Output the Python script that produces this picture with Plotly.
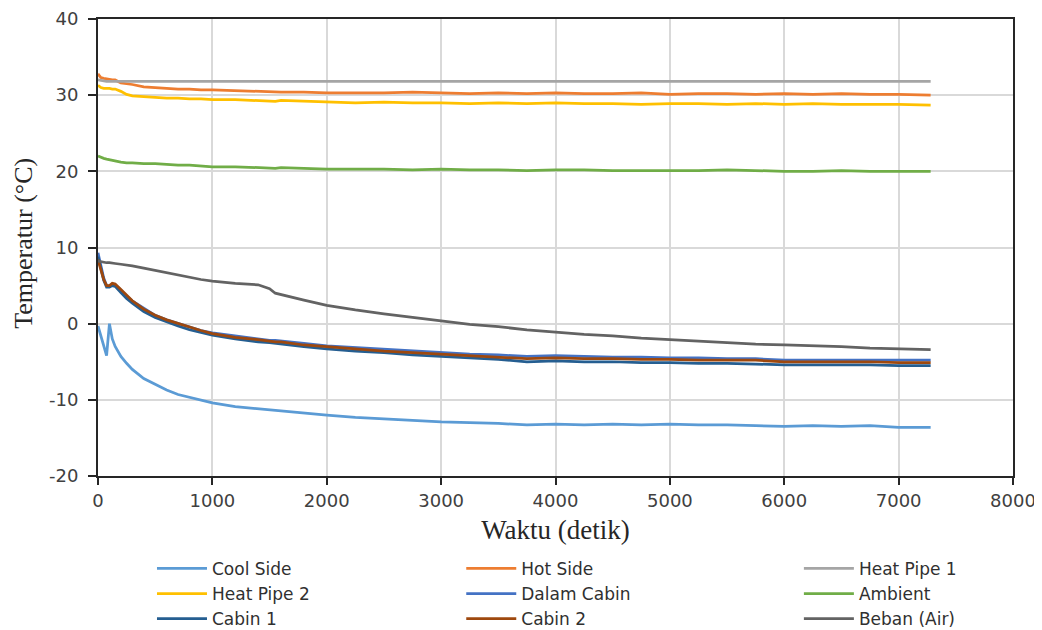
import plotly.graph_objects as go

t = [0, 25, 50, 75, 100, 125, 150, 200, 250, 300, 400, 500, 600, 700, 800, 900, 1000,
     1200, 1400, 1500, 1550, 1600, 1800, 2000, 2250, 2500, 2750, 3000, 3250, 3500, 3750,
     4000, 4250, 4500, 4750, 5000, 5250, 5500, 5750, 6000, 6250, 6500, 6750, 7000, 7280]

cool_side = [-0.3, -1.6, -2.6, -4.2, 0.0, -2.0, -3.0, -4.3, -5.2, -6.0, -7.2, -8.0, -8.7, -9.3,
             -9.7, -10.1, -10.4, -10.9, -11.2, -11.3, -11.4, -11.5, -11.8, -12.0, -12.3, -12.5,
             -12.7, -12.9, -13.0, -13.1, -13.3, -13.2, -13.3, -13.2, -13.3, -13.2, -13.3, -13.3,
             -13.4, -13.5, -13.4, -13.5, -13.4, -13.6, -13.6]
hot_side = [32.8, 32.3, 32.2, 32.1, 32.1, 32.0, 32.0, 31.6, 31.5, 31.4, 31.1, 31.0, 30.9, 30.8,
            30.8, 30.7, 30.7, 30.6, 30.5, 30.5, 30.5, 30.4, 30.4, 30.3, 30.3, 30.3, 30.4, 30.3,
            30.2, 30.3, 30.2, 30.3, 30.2, 30.2, 30.3, 30.1, 30.2, 30.2, 30.1, 30.2, 30.1, 30.2,
            30.1, 30.1, 30.0]
heat_pipe_1 = [32.0, 31.9, 31.9, 31.8, 31.8, 31.8, 31.8, 31.8, 31.8, 31.8, 31.8, 31.8, 31.8, 31.8,
               31.8, 31.8, 31.8, 31.8, 31.8, 31.8, 31.8, 31.8, 31.8, 31.8, 31.8, 31.8, 31.8, 31.8,
               31.8, 31.8, 31.8, 31.8, 31.8, 31.8, 31.8, 31.8, 31.8, 31.8, 31.8, 31.8, 31.8, 31.8,
               31.8, 31.8, 31.8]
heat_pipe_2 = [31.3, 31.0, 30.9, 30.9, 30.9, 30.8, 30.8, 30.5, 30.1, 29.9, 29.8, 29.7, 29.6, 29.6,
               29.5, 29.5, 29.4, 29.4, 29.3, 29.3, 29.2, 29.3, 29.2, 29.1, 29.0, 29.1, 29.0, 29.0,
               28.9, 29.0, 28.9, 29.0, 28.9, 28.9, 28.8, 28.9, 28.9, 28.8, 28.9, 28.8, 28.9, 28.8,
               28.8, 28.8, 28.7]
dalam_cabin = [9.3, 7.5, 6.0, 5.0, 4.9, 5.2, 5.1, 4.4, 3.6, 3.0, 2.0, 1.1, 0.5, 0.0, -0.5, -0.9,
               -1.2, -1.6, -2.0, -2.2, -2.2, -2.3, -2.6, -2.9, -3.1, -3.4, -3.6, -3.8, -4.0, -4.1,
               -4.3, -4.2, -4.3, -4.4, -4.4, -4.5, -4.5, -4.6, -4.6, -4.8, -4.8, -4.8, -4.8, -4.8,
               -4.8]
ambient = [22.0, 21.8, 21.7, 21.6, 21.5, 21.4, 21.4, 21.2, 21.1, 21.1, 21.0, 21.0, 20.9, 20.8,
           20.8, 20.7, 20.6, 20.6, 20.5, 20.5, 20.4, 20.5, 20.4, 20.3, 20.3, 20.3, 20.2, 20.3,
           20.2, 20.2, 20.1, 20.2, 20.2, 20.1, 20.1, 20.1, 20.1, 20.2, 20.1, 20.0, 20.0, 20.1,
           20.0, 20.0, 20.0]
cabin_1 = [8.8, 7.2, 5.7, 4.8, 4.8, 5.0, 4.9, 4.1, 3.3, 2.7, 1.6, 0.8, 0.2, -0.3, -0.8, -1.2,
           -1.5, -2.0, -2.4, -2.5, -2.6, -2.7, -3.0, -3.3, -3.6, -3.8, -4.1, -4.3, -4.5, -4.7,
           -5.0, -4.9, -5.0, -5.0, -5.1, -5.1, -5.2, -5.2, -5.3, -5.4, -5.4, -5.4, -5.4, -5.5,
           -5.5]
cabin_2 = [8.4, 7.0, 5.8, 5.0, 5.0, 5.3, 5.2, 4.5, 3.7, 3.0, 1.9, 1.1, 0.5, 0.0, -0.5, -0.9,
           -1.3, -1.8, -2.1, -2.3, -2.4, -2.4, -2.8, -3.0, -3.3, -3.6, -3.8, -4.0, -4.2, -4.4,
           -4.6, -4.5, -4.6, -4.6, -4.7, -4.7, -4.8, -4.8, -4.8, -5.0, -5.0, -5.0, -5.0, -5.1,
           -5.1]
beban_air = [8.2, 8.1, 8.1, 8.0, 8.0, 7.9, 7.9, 7.8, 7.7, 7.6, 7.3, 7.0, 6.7, 6.4, 6.1, 5.8,
             5.6, 5.3, 5.1, 4.6, 4.0, 3.8, 3.1, 2.4, 1.8, 1.3, 0.8, 0.3, -0.1, -0.4, -0.8, -1.1,
             -1.4, -1.6, -1.9, -2.1, -2.3, -2.5, -2.7, -2.8, -2.9, -3.0, -3.2, -3.3, -3.4]

y_ticks = [-20, -10, 0, 10, 20, 30, 40]
y_tick_labels = ["-20", "-10", "0", "10", "20", "30", "40"]
x_ticks = [0, 1000, 2000, 3000, 4000, 5000, 6000, 7000, 8000]
x_tick_labels = ["0", "1000", "2000", "3000", "4000", "5000", "6000", "7000", "8000"]

# (name, values, colour, legend column)
series = [
    ("Cool Side", cool_side, "#5B9BD5", "legend"),
    ("Hot Side", hot_side, "#ED7D31", "legend2"),
    ("Heat Pipe 1", heat_pipe_1, "#A5A5A5", "legend3"),
    ("Heat Pipe 2", heat_pipe_2, "#FFC000", "legend"),
    ("Dalam Cabin", dalam_cabin, "#4472C4", "legend2"),
    ("Ambient", ambient, "#70AD47", "legend3"),
    ("Cabin 1", cabin_1, "#255E91", "legend"),
    ("Cabin 2", cabin_2, "#9E480E", "legend2"),
    ("Beban (Air)", beban_air, "#636363", "legend3"),
]

fig = go.Figure()
for name, vals, col, lg in series:
    fig.add_trace(go.Scatter(x=t, y=vals, mode="lines", name=name, legend=lg,
                             line=dict(color=col, width=2.75)))

tick_font = dict(family="DejaVu Sans", size=18, color="#404040")
leg_common = dict(orientation="v", xanchor="left", y=-0.164, yanchor="top",
                  itemwidth=50, tracegroupgap=0, bgcolor="rgba(0,0,0,0)",
                  font=dict(family="DejaVu Sans", size=17, color="#303030"))
fig.update_layout(
    width=1034, height=622,
    margin=dict(l=90, r=29, t=11, b=154, autoexpand=False),
    paper_bgcolor="white", plot_bgcolor="white",
    showlegend=True,
    legend=dict(x=0.059, **leg_common),
    legend2=dict(x=0.397, **leg_common),
    legend3=dict(x=0.766, **leg_common),
    xaxis=dict(range=[0, 8000], tickmode="array", tickvals=x_ticks, ticktext=x_tick_labels,
               showgrid=True, gridcolor="#D9D9D9",
               gridwidth=1.5, zeroline=False, showline=True, linecolor="#262626", linewidth=2,
               mirror=True, ticks="outside", ticklen=7, tickcolor="#262626", tickwidth=2,
               tickfont=tick_font,
               title=dict(text="Waktu (detik)", standoff=11,
                          font=dict(family="Liberation Serif", size=27, color="#262626"))),
    yaxis=dict(range=[-20, 40], tickmode="array", tickvals=y_ticks, ticktext=y_tick_labels,
               showgrid=True, gridcolor="#D9D9D9",
               gridwidth=1.5, zeroline=False, showline=True, linecolor="#262626", linewidth=2,
               mirror=True, ticks="outside", ticklen=8, tickcolor="#262626", tickwidth=2,
               tickfont=tick_font, ticklabelstandoff=6),
    annotations=[dict(text="Temperatur (°C)", textangle=-90, showarrow=False,
                      xref="paper", yref="paper", x=-0.081, y=0.51,
                      xanchor="center", yanchor="middle",
                      font=dict(family="Liberation Serif", size=26, color="#262626"))],
)

fig.write_html("out.html")
